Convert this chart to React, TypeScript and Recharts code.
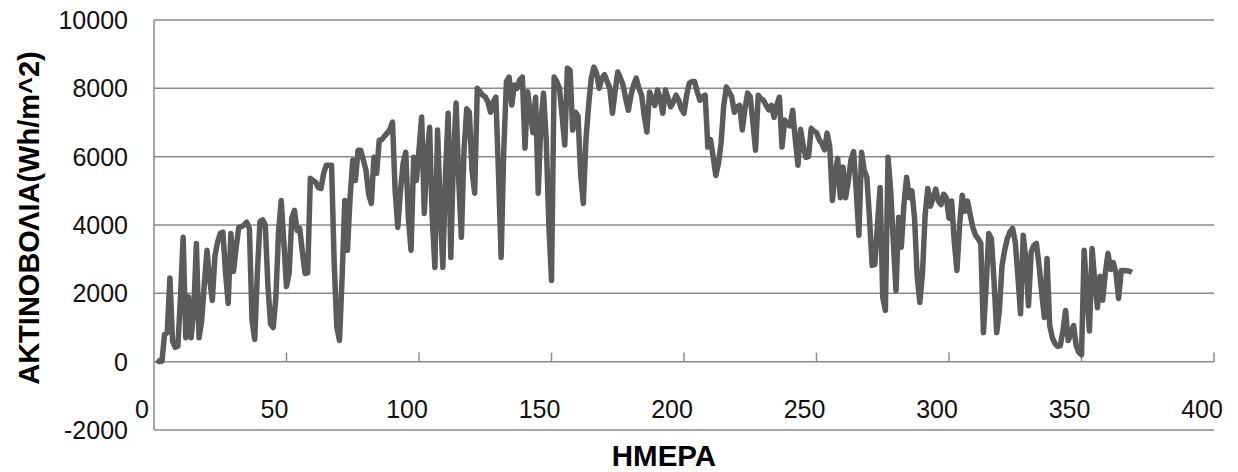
import React from 'react';
import { LineChart, Line, XAxis, YAxis, CartesianGrid, ReferenceLine } from 'recharts';

// Daily radiation values (Wh/m^2), day 1 .. 369
const radiation: number[] = [
  50, 0, 20, 800, 850, 2450, 600, 420, 450, 1900,
  3640, 700, 1900, 700, 1500, 3460, 700, 1200, 2300, 3260,
  2400, 1790, 3100, 3500, 3750, 3790, 2600, 1700, 3750, 2640,
  3340, 3930, 3950, 4000, 4080, 3900, 1200, 650, 2600, 4100,
  4150, 4000, 2200, 1100, 1000, 1900, 3800, 4720, 3500, 2200,
  2600, 4200, 4430, 3840, 3900, 3200, 2580, 2600, 5370, 5300,
  5250, 5100, 5070, 5500, 5750, 5750, 5750, 2870, 1000, 620,
  2500, 4720, 3260, 4800, 5900, 5300, 6190, 6190, 5900, 5600,
  4900, 4630, 5980, 5510, 6480, 6500, 6600, 6690, 6800, 7010,
  5000, 3930, 5000, 5800, 6130, 4200, 3260, 5980, 5300, 6200,
  7160, 4340, 5980, 6860, 4200, 2760, 6780, 4500, 2760, 5500,
  7270, 3050, 6000, 7570, 5300, 3640, 6200, 7400, 7300, 5600,
  4930, 8000, 7900, 7800, 7750, 7600, 7300, 7600, 7740, 5500,
  3050, 6200, 8200, 8330, 7510, 8100, 8000, 8250, 8330, 6250,
  7900, 7300, 6700, 7740, 4930, 7000, 7860, 6500, 4000, 2380,
  8330, 8200, 8000, 7200, 6340, 8590, 8530, 6780, 7300, 7200,
  5500, 4630, 6500, 7500, 8300, 8620, 8450, 8000, 8300, 8400,
  8200, 8000, 7270, 7900, 8480, 8300, 8100, 7700, 7360, 7800,
  8100, 8300, 8000, 7800, 7200, 6720, 7890, 7700, 7500, 7950,
  7700, 7270, 7950, 7700, 7460, 7600, 7800, 7650, 7400, 7270,
  7800, 8150, 8200, 8200, 7900, 7650, 7750, 7800, 6280, 6500,
  6000, 5450, 5800, 6400, 7500, 8040, 7900, 7750, 7300, 7450,
  7500, 6780, 7400, 7860, 7750, 7000, 6190, 7800, 7700, 7650,
  7500, 7370, 7500, 7150, 7500, 7740, 6280, 7070, 6950, 6900,
  7360, 6500, 5750, 6800, 6300, 5980, 6000, 6830, 6750, 6700,
  6500, 6390, 6200, 6690, 6300, 4720, 5500, 5950, 4800, 5700,
  4800, 5300, 5900, 6150, 5000, 3700, 6130, 5600, 5400, 4200,
  2820, 2840, 4000, 5100, 1880, 1500, 5980, 5000, 3500, 2080,
  4230, 3350, 4600, 5400, 4800, 5000, 4200, 2500, 1730, 2600,
  4300, 5070, 4550, 4800, 5050, 4700, 4600, 4900, 4800, 4200,
  4700, 3500, 2670, 4000, 4870, 4400, 4700, 4300, 3930, 3700,
  3600, 3460, 850, 2200, 3750, 3600, 2350, 850, 1500, 2800,
  3260, 3600, 3800, 3900, 3500, 2500, 1400, 3700, 3000, 1640,
  3200, 3400, 3460, 2800, 2000, 1290, 3020, 1060, 700, 530,
  450, 470, 900, 1500, 620, 800, 1060, 470, 270, 200,
  3260, 2000, 900, 3310, 2350, 1580, 2500, 1800, 2600, 3170,
  2700, 2900, 2600, 1850, 2670, 2670, 2660, 2650, 2610,
];

const days: number[] = radiation.map((_, i) => i + 1);

const xTicks: number[] = [0, 50, 100, 150, 200, 250, 300, 350, 400];
const yTicks: number[] = [-2000, 0, 2000, 4000, 6000, 8000, 10000];
const tickMarkLength = 265;

const yTitle = 'ΑΚΤΙΝΟΒΟΛΙΑ(Wh/m^2)';
const xTitle = 'ΗΜΕΡΑ';

const data = days.map((d, i) => ({ day: d, value: radiation[i] }));

const FONT = '"Liberation Sans", Arial, sans-serif';
const GRID = '#8a8a8a';

const XTick = (props: any) => {
  const { x, y, payload } = props;
  return (
    <text
      x={x - 12}
      y={y - 21}
      textAnchor="middle"
      dominantBaseline="central"
      fontFamily={FONT}
      fontSize={25}
      fill="#111"
    >
      {payload.value}
    </text>
  );
};

const YTick = (props: any) => {
  const { x, y, payload } = props;
  return (
    <text
      x={x}
      y={y}
      textAnchor="end"
      dominantBaseline="central"
      fontFamily={FONT}
      fontSize={25}
      fill="#111"
    >
      {payload.value}
    </text>
  );
};

export default function App() {
  return (
    <div style={{ position: 'absolute', left: 0, top: 0, width: 1238, height: 472, background: '#fff' }}>
      <LineChart
        width={1238}
        height={472}
        data={data}
        margin={{ top: 20, right: 24, bottom: 0, left: 0 }}
      >
        <CartesianGrid horizontal vertical={false} stroke={GRID} strokeWidth={1.5} />
        <XAxis
          dataKey="day"
          type="number"
          domain={[0, 400]}
          ticks={xTicks}
          height={42}
          axisLine={false}
          tickLine={false}
          tickSize={0}
          tickMargin={0}
          tick={<XTick />}
          interval={0}
        />
        <YAxis
          type="number"
          domain={[-2000, 10000]}
          ticks={yTicks}
          width={154}
          axisLine={{ stroke: GRID, strokeWidth: 1.5 }}
          tickLine={false}
          tickSize={0}
          tickMargin={26}
          tick={<YTick />}
          interval={0}
        />
        {xTicks.filter((t) => t > 0).map((t) => (
          <ReferenceLine
            key={t}
            segment={[{ x: t, y: 0 }, { x: t, y: tickMarkLength }]}
            stroke={GRID}
            strokeWidth={1.5}
          />
        ))}
        <Line
          type="linear"
          dataKey="value"
          stroke="#5b5b5b"
          strokeWidth={5.5}
          strokeLinejoin="round"
          dot={false}
          isAnimationActive={false}
        />
        <text
          x={29}
          y={218}
          transform="rotate(-90, 29, 218)"
          textAnchor="middle"
          dominantBaseline="central"
          fontFamily={FONT}
          fontWeight="bold"
          fontSize={29}
          fill="#000"
        >
          {yTitle}
        </text>
        <text
          x={664}
          y={455}
          textAnchor="middle"
          dominantBaseline="central"
          fontFamily={FONT}
          fontWeight="bold"
          fontSize={29.5}
          fill="#000"
        >
          {xTitle}
        </text>
      </LineChart>
    </div>
  );
}
